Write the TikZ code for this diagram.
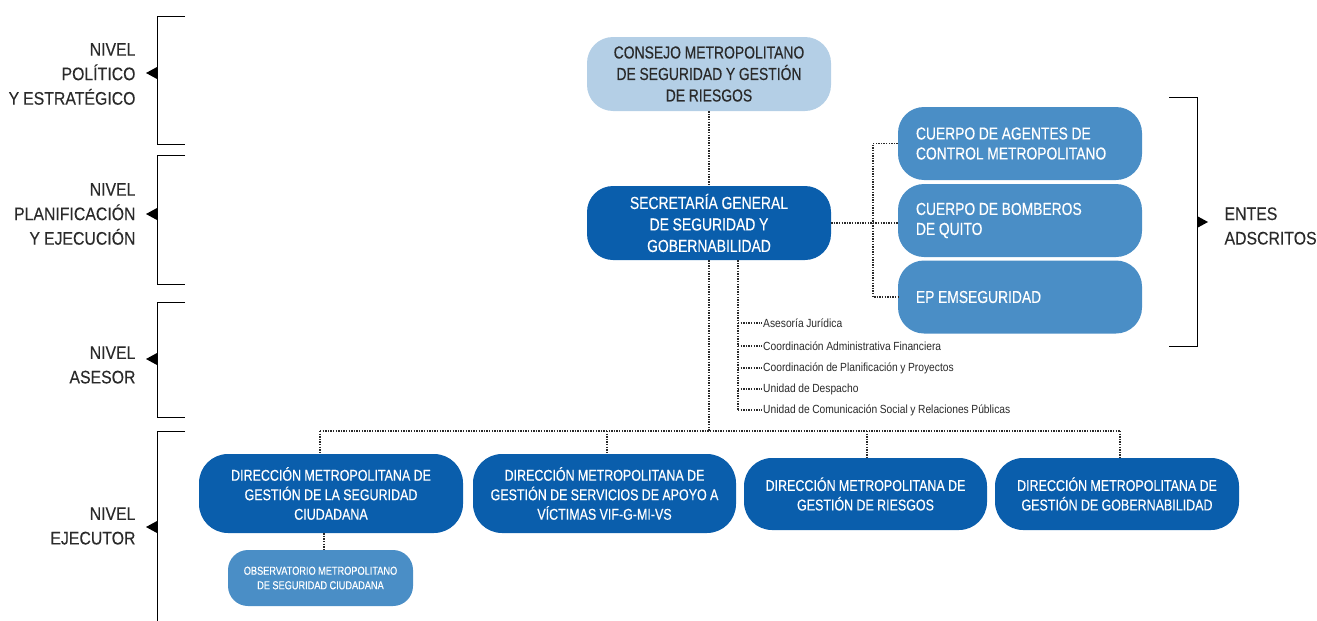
\documentclass[tikz,border=0pt]{standalone}
\usepackage{fontspec}
\newfontfamily\cf[FakeStretch=0.8,FakeBold=0.35,WordSpace=0.95]{Liberation Sans}
\newfontfamily\lf[FakeStretch=0.87,FakeBold=0.2,WordSpace=0.9]{Liberation Sans}
\newfontfamily\itemfont[FakeStretch=0.87,WordSpace=0.9]{Liberation Sans}
\definecolor{dblue}{HTML}{0A5EAC}
\definecolor{mblue}{HTML}{4A8EC6}
\definecolor{lblue}{HTML}{B4CFE6}
\definecolor{txt}{HTML}{2A2A2A}
\begin{document}
\begin{tikzpicture}[x=1pt,y=-1pt,
  box/.style={rounded corners=26pt, minimum width=244pt, minimum height=74pt, inner sep=0pt, align=center, text=white},
  dk/.style={box, fill=dblue},
  md/.style={box, fill=mblue},
  lt/.style={box, fill=lblue, text=txt},
  bigf/.style={font=\cf\fontsize{17.4}{21.5}\selectfont},
  entf/.style={font=\cf\fontsize{17.3}{20}\selectfont},
  botf/.style={font=\cf\fontsize{15.6}{19.5}\selectfont},
  link/.style={line width=1.6pt, dash pattern=on 1.4pt off 1.2pt, txt},
  brk/.style={line width=1pt, black},
  lvl/.style={align=right, text=txt, font=\lf\fontsize{18.2}{24.5}\selectfont},
  item/.style={anchor=west, inner sep=1pt, text=txt, font=\itemfont\fontsize{11.8}{14}\selectfont},
  ente/.style={md, entf, minimum height=73pt, align=flush left, text width=208pt, inner xsep=18pt},
]
\useasboundingbox (0,0) rectangle (1317,621);

% level brackets
\draw[brk] (185,16) -- (157,16) -- (157,144) -- (185,144);
\draw[brk] (185,155) -- (157,155) -- (157,284) -- (185,284);
\draw[brk] (185,302) -- (157,302) -- (157,417) -- (185,417);
\draw[brk] (185,431) -- (157,431) -- (157,625);
\fill[black] (157,67) -- (146,73) -- (157,79) -- cycle;
\fill[black] (157,208) -- (146,214) -- (157,220) -- cycle;
\fill[black] (157,353) -- (146,359) -- (157,365) -- cycle;
\fill[black] (157,521) -- (146,527) -- (157,533) -- cycle;

\node[lvl, anchor=east] (l1) at (139,74) {NIVEL\\POLÍTICO\\Y ESTRATÉGICO};
\node[lvl, anchor=east] (l2) at (139,214) {NIVEL\\PLANIFICACIÓN\\Y EJECUCIÓN};
\node[lvl, anchor=east] (l3) at (139,365) {NIVEL\\ASESOR};
\node[lvl, anchor=east] (l4) at (139,526) {NIVEL\\EJECUTOR};

% top boxes
\node[lt, bigf] (consejo) at (709,74) {CONSEJO METROPOLITANO\\DE SEGURIDAD Y GESTIÓN\\DE RIESGOS};
\node[dk, bigf] (sec) at (709,223) {SECRETARÍA GENERAL\\DE SEGURIDAD Y\\GOBERNABILIDAD};

% entes adscritos
\node[ente] (e1) at (1020,143.5) {CUERPO DE AGENTES DE\\CONTROL METROPOLITANO};
\node[ente] (e2) at (1020,220.5) {CUERPO DE BOMBEROS\\DE QUITO};
\node[ente] (e3) at (1020,297) {EP EMSEGURIDAD};

\draw[brk] (1169,97) -- (1197,97) -- (1197,346) -- (1169,346);
\fill[black] (1197,216) -- (1208,222) -- (1197,228) -- cycle;
\node[lvl, align=left, anchor=west] (entes) at (1221,226) {ENTES\\ADSCRITOS};

% bottom boxes
\node[dk, botf, minimum width=264pt, minimum height=79pt, rounded corners=29pt] (dA) at (331,493.5) {DIRECCIÓN METROPOLITANA DE\\GESTIÓN DE LA SEGURIDAD\\CIUDADANA};
\node[dk, botf, minimum width=263pt, minimum height=79pt, rounded corners=29pt] (dB) at (604.5,493.5) {DIRECCIÓN METROPOLITANA DE\\GESTIÓN DE SERVICIOS DE APOYO A\\VÍCTIMAS VIF-G-MI-VS};
\node[dk, botf, minimum width=243pt, minimum height=72pt, rounded corners=28pt] (dC) at (865.5,494) {DIRECCIÓN METROPOLITANA DE\\GESTIÓN DE RIESGOS};
\node[dk, botf, minimum width=244pt, minimum height=72pt, rounded corners=28pt] (dD) at (1117,494) {DIRECCIÓN METROPOLITANA DE\\GESTIÓN DE GOBERNABILIDAD};
\node[md, font=\cf\fontsize{11.5}{14.5}\selectfont, minimum width=185pt, minimum height=56pt, rounded corners=20pt] (obs) at (320.5,578) {OBSERVATORIO METROPOLITANO\\DE SEGURIDAD CIUDADANA};

% asesor items
\node[item] (a1) at (762,323) {Asesoría Jurídica};
\node[item] (a2) at (762,346) {Coordinación Administrativa Financiera};
\node[item] (a3) at (762,368) {Coordinación de Planificación y Proyectos};
\node[item] (a4) at (762,389) {Unidad de Despacho};
\node[item] (a5) at (762,410) {Unidad de Comunicación Social y Relaciones Públicas};

% connectors
\draw[link] (consejo) -- (sec);
\coordinate (jr) at (873,223);
\draw[link] (sec.east) -- (jr) -- (e2.west |- jr);
\draw[link] (e1.west) -| (jr) |- (e3.west);

\coordinate (av) at (738,410);
\draw[link] (sec.south -| av) -- (av);
\foreach \n in {a1,a2,a3,a4,a5} \draw[link] (\n.west -| av) -- (\n.west);

\coordinate (bus) at (709,431);
\coordinate (bA) at (320,431);
\coordinate (bB) at (607,431);
\coordinate (bC) at (867,431);
\coordinate (bD) at (1120,431);
\draw[link] (sec.south) -- (bus);
\draw[link] (bA) -- (bD);
\draw[link] (bA) -- (bA |- dA.north);
\draw[link] (bB) -- (bB |- dB.north);
\draw[link] (bC) -- (bC |- dC.north);
\draw[link] (bD) -- (bD |- dD.north);
\coordinate (ox) at (324,540);
\draw[link] (dA.south -| ox) -- (obs.north -| ox);
\end{tikzpicture}
\end{document}
